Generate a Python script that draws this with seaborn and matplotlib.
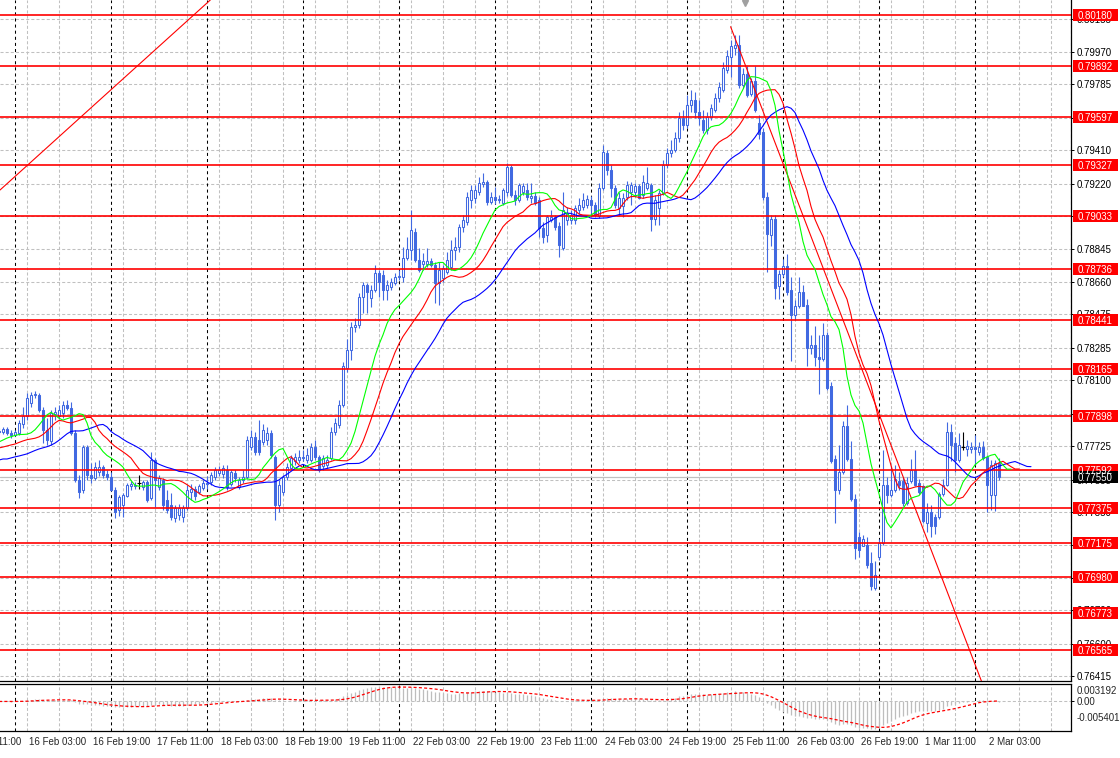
import numpy as np
import pandas as pd
import matplotlib
matplotlib.use("Agg")
import matplotlib.pyplot as plt
import seaborn as sns
from matplotlib.patches import Rectangle

sns.set_theme(style="white")
plt.rcParams['font.family'] = ['Liberation Sans', 'DejaVu Sans']
plt.rcParams['lines.scale_dashes'] = False

# ---------------- data (H1 bars, prices in points of 0.00001) ----------------
first_bar = -4   # bar index 0 = 16 Feb 00:00
open_pts = [77811, 77806, 77823, 77800,
    77789, 77800, 77851, 77897, 77971, 78017, 78017, 77931, 77817, 77754, 77908, 77897, 77914, 77960, 77942, 77800, 77533, 77476, 77720, 77561, 77545, 77578, 77607, 77567,
    77550, 77476, 77362, 77391, 77442, 77499, 77504, 77516, 77493, 77522, 77430, 77646, 77493, 77533, 77419, 77391, 77316, 77334, 77322, 77374, 77465, 77482, 77465, 77487,
    77516, 77522, 77550, 77573, 77567, 77590, 77510, 77573, 77493, 77533, 77550, 77720, 77777, 77760, 77749, 77760, 77800, 77664, 77391, 77465, 77550, 77601, 77641, 77646,
    77664, 77646, 77646, 77720, 77664, 77613, 77618, 77658, 77806, 77846, 77960, 78170, 78272, 78403, 78415, 78574, 78642, 78568, 78614, 78711, 78699, 78614, 78631, 78654,
    78688, 78688, 78796, 78842, 78944, 78785, 78762, 78762, 78779, 78756, 78654, 78682, 78716, 78745, 78842, 78859, 78973, 79002, 79127, 79138, 79172, 79218, 79229, 79115,
    79144, 79132, 79110, 79172, 79314, 79155, 79127, 79172, 79184, 79138, 79149, 79127, 78967, 78928, 79013, 79030, 78979, 78853, 79013, 79013, 79013, 79070, 79087, 79098,
    79127, 79098, 79036, 79195, 79394, 79297, 79195, 79081, 79093, 79144, 79172, 79172, 79206, 79155, 79195, 79212, 79019, 79081, 79167, 79326, 79394, 79411, 79479, 79593,
    79554, 79667, 79696, 79627, 79582, 79525, 79599, 79639, 79707, 79753, 79867, 79941, 79992, 80009, 79781, 79844, 79730, 79804, 79565, 79514, 79144, 78928, 79019, 78637,
    78705, 78751, 78614, 78472, 78523, 78603, 78529, 78284, 78301, 78233, 78222, 78358, 78068, 77652, 77476, 77579, 77840, 77652, 77425, 77208, 77157, 77163, 77060, 76917,
    77094, 77174, 77505, 77448, 77476, 77527, 77527, 77402, 77527, 77590, 77516, 77499, 77288, 77351, 77322, 77322, 77453, 77505, 77806, 77743, 77646, 77720, 77709, 77709,
    77720, 77692, 77720, 77664, 77448, 77448, 77629]
high_pts = [77828, 77834, 77834, 77817,
    77817, 77874, 77948, 78028, 78034, 78039, 78028, 77948, 77885, 77931, 77948, 77960, 77982, 77988, 77977, 77817, 77561, 77732, 77732, 77630, 77635, 77646, 77618, 77590,
    77578, 77493, 77447, 77459, 77516, 77527, 77522, 77561, 77533, 77533, 77692, 77658, 77561, 77545, 77476, 77459, 77391, 77396, 77391, 77504, 77510, 77499, 77510, 77533,
    77556, 77578, 77607, 77613, 77618, 77618, 77590, 77590, 77550, 77590, 77783, 77817, 77806, 77874, 77851, 77834, 77817, 77675, 77533, 77561, 77630, 77675, 77686, 77703,
    77703, 77714, 77743, 77760, 77675, 77675, 77675, 77834, 77885, 77988, 78204, 78335, 78432, 78455, 78597, 78660, 78654, 78642, 78756, 78728, 78728, 78671, 78682, 78711,
    78728, 78859, 78916, 79070, 78967, 78853, 78825, 78853, 78796, 78773, 78773, 78756, 78830, 78899, 78916, 78990, 79041, 79172, 79212, 79212, 79257, 79280, 79240, 79172,
    79201, 79155, 79195, 79337, 79326, 79184, 79223, 79223, 79223, 79223, 79172, 79144, 79002, 79042, 79070, 79041, 79002, 79172, 79087, 79070, 79098, 79138, 79167, 79155,
    79149, 79115, 79223, 79440, 79411, 79326, 79212, 79172, 79167, 79234, 79229, 79223, 79218, 79269, 79314, 79223, 79155, 79184, 79354, 79422, 79468, 79514, 79627, 79639,
    79724, 79753, 79741, 79696, 79639, 79627, 79673, 79736, 79798, 79912, 79981, 80038, 80066, 80066, 79878, 79889, 79821, 79889, 79610, 79536, 79173, 79042, 79042, 78728,
    78791, 78819, 78688, 78557, 78688, 78643, 78563, 78358, 78409, 78358, 78426, 78375, 78091, 77675, 77732, 77868, 77960, 77754, 77453, 77237, 77220, 77208, 77123, 77071,
    77197, 77703, 77550, 77613, 77618, 77579, 77550, 77550, 77652, 77703, 77539, 77505, 77402, 77391, 77339, 77465, 77539, 77862, 77851, 77777, 77800, 77806, 77760, 77749,
    77789, 77749, 77754, 77675, 77646, 77646, 77658]
low_pts = [77794, 77794, 77789, 77771,
    77783, 77789, 77828, 77874, 77948, 77999, 77920, 77743, 77732, 77732, 77874, 77880, 77885, 77931, 77789, 77522, 77430, 77459, 77533, 77516, 77533, 77556, 77545, 77533,
    77470, 77316, 77328, 77322, 77436, 77476, 77482, 77482, 77476, 77408, 77419, 77379, 77476, 77362, 77345, 77305, 77294, 77305, 77294, 77362, 77419, 77419, 77453, 77476,
    77482, 77504, 77533, 77556, 77545, 77476, 77499, 77522, 77482, 77516, 77539, 77703, 77675, 77675, 77732, 77732, 77658, 77305, 77351, 77447, 77533, 77590, 77618, 77630,
    77641, 77630, 77635, 77646, 77578, 77590, 77601, 77646, 77789, 77828, 77948, 78147, 78216, 78375, 78398, 78483, 78483, 78517, 78602, 78574, 78557, 78557, 78614, 78642,
    78671, 78659, 78785, 78785, 78773, 78716, 78728, 78745, 78745, 78540, 78529, 78659, 78705, 78728, 78785, 78830, 78944, 78984, 79081, 79110, 79155, 79200, 79098, 79104,
    79104, 79110, 79098, 79149, 79144, 79098, 79115, 79155, 79127, 79110, 79098, 78916, 78882, 78888, 79002, 78956, 78802, 78842, 78984, 78990, 78990, 79047, 79070, 79081,
    79030, 79030, 79024, 79184, 79269, 79144, 79081, 79041, 79030, 79127, 79098, 79144, 79132, 79138, 79184, 78950, 78984, 78984, 79155, 79309, 79372, 79400, 79457, 79525,
    79536, 79627, 79593, 79554, 79508, 79502, 79582, 79627, 79684, 79741, 79850, 79827, 79952, 79764, 79764, 79713, 79719, 79627, 79474, 79127, 78717, 78865, 78563, 78563,
    78688, 78586, 78210, 78443, 78511, 78523, 78182, 78250, 78182, 78022, 78210, 78045, 77629, 77288, 77453, 77567, 77641, 77413, 77083, 77094, 77157, 77031, 76906, 76906,
    77077, 77163, 77402, 77436, 77465, 77476, 77385, 77391, 77516, 77499, 77453, 77288, 77237, 77208, 77225, 77311, 77442, 77499, 77641, 77579, 77635, 77703, 77669, 77686,
    77618, 77675, 77646, 77351, 77362, 77356, 77533]
close_pts = [77806, 77823, 77800, 77789,
    77806, 77857, 77897, 77999, 78017, 78022, 77931, 77817, 77760, 77914, 77920, 77931, 77960, 77942, 77800, 77533, 77465, 77720, 77561, 77545, 77607, 77607, 77561, 77550,
    77476, 77351, 77436, 77447, 77504, 77510, 77499, 77516, 77522, 77419, 77646, 77533, 77545, 77391, 77362, 77322, 77374, 77374, 77374, 77476, 77482, 77442, 77499, 77516,
    77510, 77561, 77590, 77590, 77601, 77493, 77578, 77545, 77533, 77550, 77760, 77777, 77692, 77692, 77817, 77800, 77675, 77391, 77504, 77550, 77607, 77658, 77664, 77664,
    77658, 77675, 77720, 77664, 77590, 77658, 77646, 77806, 77857, 77960, 78182, 78272, 78403, 78415, 78574, 78642, 78602, 78614, 78711, 78659, 78614, 78642, 78659, 78688,
    78694, 78796, 78848, 78956, 78785, 78728, 78779, 78779, 78756, 78654, 78728, 78739, 78785, 78842, 78859, 78973, 79013, 79144, 79184, 79184, 79223, 79229, 79115, 79144,
    79127, 79127, 79184, 79314, 79155, 79127, 79212, 79206, 79144, 79149, 79110, 78967, 78916, 79030, 79030, 78973, 78870, 79070, 79053, 79041, 79081, 79098, 79127, 79132,
    79098, 79041, 79195, 79400, 79297, 79195, 79098, 79138, 79138, 79212, 79212, 79206, 79138, 79229, 79223, 79019, 79127, 79167, 79326, 79394, 79411, 79479, 79593, 79554,
    79667, 79696, 79627, 79593, 79525, 79599, 79650, 79707, 79770, 79878, 79946, 80003, 80009, 79781, 79844, 79724, 79804, 79639, 79502, 79144, 78933, 79019, 78625, 78705,
    78751, 78603, 78472, 78523, 78603, 78523, 78284, 78301, 78233, 78222, 78358, 78057, 77640, 77476, 77579, 77840, 77652, 77425, 77145, 77134, 77197, 77049, 76929, 76992,
    77174, 77505, 77448, 77476, 77539, 77505, 77402, 77516, 77590, 77505, 77465, 77299, 77351, 77271, 77271, 77453, 77505, 77806, 77732, 77646, 77732, 77720, 77726, 77720,
    77709, 77720, 77658, 77505, 77618, 77629, 77550]

# Alligator values already on the chart at its left edge (jaw / teeth / lips)
jaw_lead = [0.77646, 0.77652, 0.77652, 0.77658, 0.77664, 0.77669, 0.77675, 0.77681]
teeth_lead = [0.77715, 0.77720, 0.77726, 0.77732, 0.77737]
lips_lead = [0.77749, 0.77760, 0.77771]

level_prices = [0.80180, 0.79892, 0.79597, 0.79327, 0.79033, 0.78736, 0.78441, 0.78165,
                0.77898, 0.77592, 0.77375, 0.77175, 0.76980, 0.76773, 0.76565]
bid_price = 0.77550
price_ticks = [0.80155, 0.79970, 0.79785, 0.79595, 0.79410, 0.79220, 0.79035, 0.78845,
               0.78660, 0.78475, 0.78285, 0.78100, 0.77910, 0.77725, 0.77535, 0.77350,
               0.77160, 0.76975, 0.76790, 0.76600, 0.76415]
time_labels = ["15 Feb 11:00", "16 Feb 03:00", "16 Feb 19:00", "17 Feb 11:00", "18 Feb 03:00",
               "18 Feb 19:00", "19 Feb 11:00", "22 Feb 03:00", "22 Feb 19:00", "23 Feb 11:00",
               "24 Feb 03:00", "24 Feb 19:00", "25 Feb 11:00", "26 Feb 03:00", "26 Feb 19:00",
               "1 Mar 11:00", "2 Mar 03:00"]
first_label_bar = -13
macd_scale = [0.003192, 0.0, -0.005401]
macd_scale_text = ["0.003192", "0.00", "-0.005401"]
# trend lines: (bar, price) anchors
trend_up = [(-4, 0.79178), (48, 0.80248)]
trend_down = [(178.9, 0.80113), (241.5, 0.76394)]

# ---------------- derived series ----------------
o = np.array(open_pts) / 1e5
h = np.array(high_pts) / 1e5
l = np.array(low_pts) / 1e5
c = np.array(close_pts) / 1e5
bars = np.arange(first_bar, first_bar + len(c))

median = (h + l) / 2.0
def smma(values, n, seed):
    out, s = [], seed
    for v in values:
        s = (s * (n - 1) + v) / n
        out.append(s)
    return np.array(out)

def alligator_line(lead, n, shift):
    vals = smma(median, n, lead[-1])
    xs = np.concatenate([first_bar + np.arange(len(lead)), bars + shift])
    ys = np.concatenate([np.array(lead), vals])
    return pd.DataFrame({"bar": xs, "price": ys})

jaw = alligator_line(jaw_lead, 13, 8)
teeth = alligator_line(teeth_lead, 8, 5)
lips = alligator_line(lips_lead, 5, 3)

cs = pd.Series(c)
macd = cs.ewm(span=12, adjust=False).mean() - cs.ewm(span=26, adjust=False).mean()
signal = macd.rolling(9, min_periods=1).mean()

# ---------------- layout ----------------
W, H = 1120, 758
FS = 7
fig = plt.figure(figsize=(W / 100, H / 100), dpi=100)
fig.patch.set_facecolor("white")
MAIN_BOT, IND_TOP, IND_BOT, RIGHT = 681, 684, 731, 1071
ax = fig.add_axes([0, (H - MAIN_BOT) / H, RIGHT / W, MAIN_BOT / H])
axi = fig.add_axes([0, (H - IND_BOT) / H, RIGHT / W, (IND_BOT - IND_TOP) / H])
axr = fig.add_axes([RIGHT / W, (H - MAIN_BOT) / H, (W - RIGHT) / W, MAIN_BOT / H])

px = 0.00005693  # price per pixel
YLIM = (0.80265 - MAIN_BOT * px, 0.80265)
XLIM = (-3.75, 264.0)
for a in (ax, axi):
    a.set_facecolor("white")

grid_gray = "#C0C0C0"
dash = (0, (2.2, 1.5))
grid_bars = np.arange(first_bar - 1, XLIM[1] + 1, 8)
day_bars = np.arange(0, XLIM[1] + 1, 24)
label_bars = first_label_bar + 16 * np.arange(len(time_labels))

# main axes grid / frame
ax.set_yticks(price_ticks)
ax.set_yticklabels([f"{p:.5f}" for p in price_ticks])
ax.yaxis.tick_right()
ax.tick_params(axis="y", length=2.5, width=0.7, color="black", labelsize=FS, pad=1.5,
               labelcolor="black")
ax.set_xticks(grid_bars)
ax.set_xticklabels([])
ax.tick_params(axis="x", length=0)
ax.grid(True, axis="both", color=grid_gray, linestyle=dash, linewidth=0.75, zorder=0)
ax.set_axisbelow(True)
for s in ("left", "top"):
    ax.spines[s].set_visible(False)
for s in ("right", "bottom"):
    ax.spines[s].set_color("black")
    ax.spines[s].set_linewidth(0.9)
for d in day_bars:
    ax.axvline(d, color="black", linestyle=(0, (2.2, 2.2)), linewidth=0.75, zorder=0.6)
    axi.axvline(d, color="black", linestyle=(0, (2.2, 2.2)), linewidth=0.75, zorder=0.6)

ax.axhline(bid_price, color=grid_gray, linewidth=0.9, zorder=0.7)

# candles
candle_blue = "#4169E1"
doji = o == c
wick_col = np.where(doji, "black", candle_blue)
ax.vlines(bars, l, h, colors=wick_col, linewidth=0.8, zorder=2)
up = (c > o) & ~doji
dn = (c < o) & ~doji
ax.bar(bars[up], (c - o)[up], bottom=o[up], width=0.5, color="white",
       edgecolor=candle_blue, linewidth=0.75, zorder=2.1)
ax.bar(bars[dn], (o - c)[dn], bottom=c[dn], width=0.5, color=candle_blue,
       edgecolor=candle_blue, linewidth=0.75, zorder=2.1)
ax.hlines(c[doji], bars[doji] - 0.45, bars[doji] + 0.45, colors="black", linewidth=0.8, zorder=2.1)

# horizontal levels and trend lines
for p in level_prices:
    ax.axhline(p, color="#FF0000", linewidth=1.2, zorder=2.6)
ax.axline(trend_up[0], trend_up[1], color="#FF0000", linewidth=0.8, zorder=3)
(b1, p1), (b2, p2) = trend_down
slope = (p2 - p1) / (b2 - b1)
b_end = b2 + 20
ax.plot([b1, b_end], [p1, p1 + slope * (b_end - b1)], color="#FF0000", linewidth=0.8, zorder=3)

# alligator
sns.lineplot(data=jaw, x="bar", y="price", ax=ax, color="#0000FF", linewidth=0.8,
             legend=False, estimator=None, sort=False, zorder=3)
sns.lineplot(data=teeth, x="bar", y="price", ax=ax, color="#FF0000", linewidth=0.8,
             legend=False, estimator=None, sort=False, zorder=3)
sns.lineplot(data=lips, x="bar", y="price", ax=ax, color="#00FF00", linewidth=0.8,
             legend=False, estimator=None, sort=False, zorder=3)
ax.set_xlabel("")
ax.set_ylabel("")

# chart-shift marker
ax.plot([0.6956], [0.995], marker="v", markersize=5, color="#A0A0A0",
        transform=ax.transAxes, clip_on=False, zorder=5)

# right-hand price labels
axr.set_axis_off()
axr.patch.set_visible(False)
hh = 6.0 * px
for p in level_prices:
    axr.add_patch(Rectangle((2, p - hh), 45, 2 * hh, facecolor="#FF0000", edgecolor="none", zorder=5))
    axr.text(24.5, p, f"{p:.5f}", color="white", fontsize=FS, ha="center", va="center_baseline", zorder=6)
axr.add_patch(Rectangle((2, bid_price - hh), 45, 2 * hh, facecolor="black", edgecolor="none", zorder=5))
axr.text(24.5, bid_price, f"{bid_price:.5f}", color="white", fontsize=FS, ha="center",
         va="center_baseline", zorder=6)

# ---------------- MACD panel ----------------
axi.vlines(bars, 0, macd.values, colors="#BDBDBD", linewidth=0.9, zorder=2)
sig_df = pd.DataFrame({"bar": bars, "signal": signal.values})
sns.lineplot(data=sig_df, x="bar", y="signal", ax=axi, color="#FF0000", linewidth=0.9,
             linestyle=(0, (2.2, 1.6)), legend=False, estimator=None, sort=False, zorder=3)
axi.set_xlabel("")
axi.set_ylabel("")
axi.set_xticks(label_bars)
axi.set_xticks(grid_bars, minor=True)
axi.set_xticklabels([])
axi.tick_params(axis="x", which="major", length=3.5, width=0.7, color="black", direction="out")
axi.tick_params(axis="x", which="minor", length=2, width=0.6, color="black", direction="out")
axi.grid(True, axis="x", which="both", color=grid_gray, linestyle=dash, linewidth=0.75, zorder=0)
axi.axhline(0, color=grid_gray, linestyle=dash, linewidth=0.75, zorder=0.5)
axi.yaxis.tick_right()
axi.set_yticks([macd_scale[1]])
axi.set_yticklabels([macd_scale_text[1]])
axi.tick_params(axis="y", length=2.5, width=0.7, color="black", labelsize=FS, pad=1.5)
axi.spines["left"].set_visible(False)
for s in ("right", "bottom", "top"):
    axi.spines[s].set_color("black")
    axi.spines[s].set_linewidth(0.9)

# final view limits (after all plotting so nothing autoscales them)
ax.set_xlim(*XLIM)
axi.set_xlim(*XLIM)
ax.set_ylim(*YLIM)
axi.set_ylim(macd_scale[2], macd_scale[0])
axr.set_ylim(*YLIM)
axr.set_xlim(0, W - RIGHT)

axi.annotate(macd_scale_text[0], xy=(1, macd_scale[0]), xycoords=("axes fraction", "data"),
             xytext=(5.5, -7), textcoords="offset pixels", fontsize=FS, ha="left",
             va="center", annotation_clip=False)
axi.annotate(macd_scale_text[2], xy=(1, macd_scale[2]), xycoords=("axes fraction", "data"),
             xytext=(5.5, 13), textcoords="offset pixels", fontsize=FS, ha="left",
             va="center", annotation_clip=False)
for lb, txt in zip(label_bars, time_labels):
    axi.annotate(txt, xy=(lb, 0), xycoords=("data", "axes fraction"), xytext=(2, -11),
                 textcoords="offset pixels", fontsize=FS, ha="left", va="center",
                 annotation_clip=False)

fig.savefig("out.png", dpi=100, facecolor="white")
